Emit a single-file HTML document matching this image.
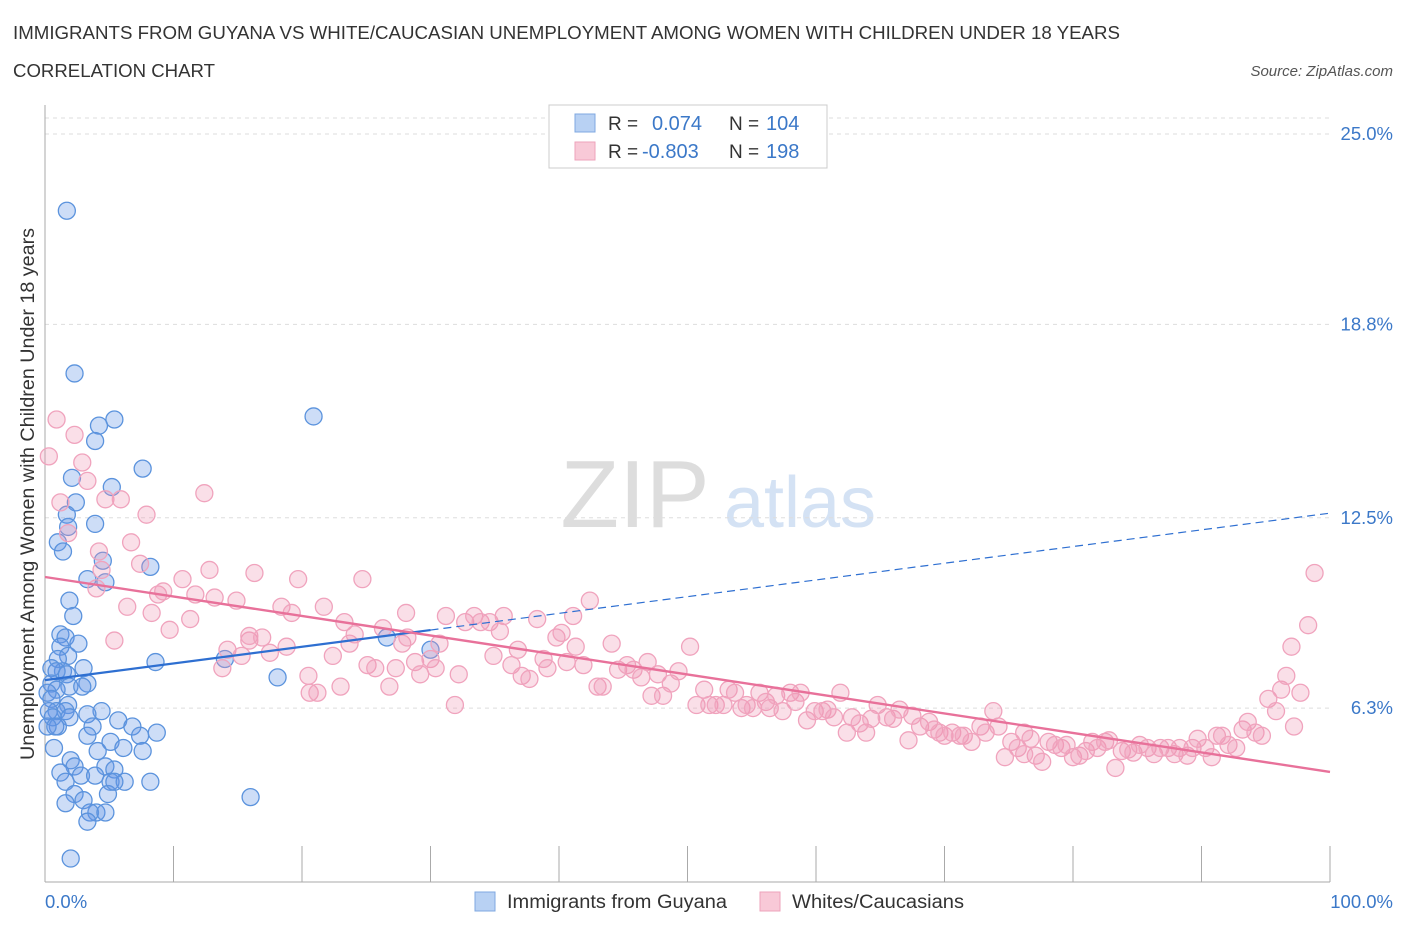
<!DOCTYPE html>
<html><head><meta charset="utf-8">
<style>
body{margin:0;background:#fff;font-family:"Liberation Sans",sans-serif;}
svg text{font-family:"Liberation Sans",sans-serif;}
</style></head>
<body>
<svg id="chart" width="1406" height="930" viewBox="0 0 1406 930" xmlns="http://www.w3.org/2000/svg">
<text x="13" y="39" font-size="18" fill="#333" textLength="1107" lengthAdjust="spacingAndGlyphs">IMMIGRANTS FROM GUYANA VS WHITE/CAUCASIAN UNEMPLOYMENT AMONG WOMEN WITH CHILDREN UNDER 18 YEARS</text>
<text x="13" y="77" font-size="18" fill="#333" textLength="202" lengthAdjust="spacingAndGlyphs">CORRELATION CHART</text>
<text x="1393" y="76" font-size="15" fill="#555" text-anchor="end" font-style="italic">Source: ZipAtlas.com</text>
<g>
<text x="635" y="527" font-size="96" fill="#ddd" text-anchor="middle" font-family="Liberation Serif, serif">ZIP</text>
<text x="800" y="527" font-size="72" fill="#d4e2f4" text-anchor="middle">atlas</text>
</g>
<g id="grid"></g>
<g id="axes"></g>
<g id="blue"></g>
<g id="pink"></g>
<g id="trends"></g>
<g>
<rect x="549" y="105" width="278" height="63" fill="#fff" stroke="#ccc"/>
<rect x="575" y="114" width="20" height="18" fill="#b8d1f3" stroke="#7fa8e0"/>
<text x="608" y="130" font-size="19" fill="#333">R =</text>
<text x="652" y="130" font-size="20" fill="#3b78c8">0.074</text>
<text x="729" y="130" font-size="19" fill="#333">N =</text>
<text x="766" y="130" font-size="20" fill="#3b78c8">104</text>
<rect x="575" y="142" width="20" height="18" fill="#f8c9d7" stroke="#eea3bb"/>
<text x="608" y="158" font-size="19" fill="#333">R =</text>
<text x="642" y="158" font-size="20" fill="#3b78c8">-0.803</text>
<text x="729" y="158" font-size="19" fill="#333">N =</text>
<text x="766" y="158" font-size="20" fill="#3b78c8">198</text>
</g>
<g>
<rect x="475" y="892" width="20" height="19" fill="#b8d1f3" stroke="#7fa8e0"/>
<text x="507" y="908" font-size="19" fill="#333" textLength="220" lengthAdjust="spacingAndGlyphs">Immigrants from Guyana</text>
<rect x="760" y="892" width="20" height="19" fill="#f8c9d7" stroke="#eea3bb"/>
<text x="792" y="908" font-size="19" fill="#333" textLength="172" lengthAdjust="spacingAndGlyphs">Whites/Caucasians</text>
</g>
</svg>
<script>
const yTicks=[25.0,18.8,12.5,6.3];
const yTickLabels=["25.0%","18.8%","12.5%","6.3%"];
const xTickLabels=["0.0%","100.0%"];
const blueX=[1.7,2.3,5.4,4.2,3.9,2.1,7.6,5.2,2.4,1.7,1.8,3.9,1.0,1.4,4.5,8.2,3.3,4.7,1.9,2.2,1.2,1.6,2.6,1.2,1.8,8.6,1.0,3.0,1.4,0.5,0.9,1.7,3.3,1.9,0.5,2.9,0.9,0.2,0.5,1.8,4.4,0.9,1.6,0.3,1.9,0.6,3.3,5.7,3.7,6.8,1.0,0.2,0.8,3.3,7.4,8.7,5.1,0.7,6.1,4.1,7.6,2.0,2.3,4.7,1.2,2.8,3.9,5.4,1.6,5.1,6.2,8.2,2.3,4.9,1.6,3.0,4.0,3.5,4.7,3.3,2.0,14.0,18.1,20.9,16.0,26.6,30.0,5.4];
const blueY=[22.5,17.2,15.7,15.5,15.0,13.8,14.1,13.5,13.0,12.6,12.2,12.3,11.7,11.4,11.1,10.9,10.5,10.4,9.8,9.3,8.7,8.6,8.4,8.3,8.0,7.8,7.9,7.6,7.5,7.6,7.5,7.4,7.1,7.0,7.1,7.0,6.9,6.8,6.6,6.4,6.2,6.2,6.2,6.2,6.0,6.0,6.1,5.9,5.7,5.7,5.7,5.7,5.7,5.4,5.4,5.5,5.2,5.0,5.0,4.9,4.9,4.6,4.4,4.4,4.2,4.1,4.1,4.3,3.9,3.9,3.9,3.9,3.5,3.5,3.2,3.3,2.9,2.9,2.9,2.6,1.4,7.9,7.3,15.8,3.4,8.6,8.2,3.9];
const pinkX=[0.9,0.3,2.3,2.9,3.3,1.2,1.8,4.7,5.9,7.9,6.7,4.2,4.0,4.4,6.4,5.4,7.4,8.8,9.2,8.3,9.7,10.7,11.3,11.7,12.4,12.8,13.2,13.8,14.9,14.2,15.3,15.9,16.3,15.9,16.9,17.5,18.4,18.8,19.7,19.2,20.5,20.6,21.2,21.7,22.4,23.0,23.3,23.7,24.1,24.7,25.1,25.7,26.3,26.8,27.3,27.8,28.1,28.2,28.8,29.2,30.0,30.4,30.7,31.2,31.9,32.2,32.7,33.4,33.9,34.6,34.9,35.4,35.7,36.3,36.8,37.1,37.7,38.3,38.8,39.1,39.8,40.2,40.6,41.1,41.3,41.9,42.4,43.0,43.4,44.1,44.6,45.3,45.8,46.4,46.9,47.2,47.7,48.1,48.7,49.3,50.2,50.7,51.3,51.7,52.2,52.8,53.2,53.7,54.2,54.6,55.1,55.6,56.1,56.4,56.9,57.4,58.0,58.4,58.8,59.3,59.9,60.5,60.9,61.4,61.9,62.4,62.8,63.4,63.9,64.3,64.8,65.5,66.0,66.5,67.2,67.5,68.1,68.8,69.2,69.6,70.0,70.6,71.2,71.5,72.1,72.8,73.2,73.8,74.2,74.7,75.2,75.7,76.2,76.7,77.1,77.6,78.1,78.6,79.1,79.5,80.0,80.5,81.0,81.5,81.9,82.5,82.8,83.3,83.8,84.3,84.7,85.2,85.8,86.3,86.8,87.4,87.9,88.3,88.9,89.3,89.7,90.3,90.8,91.2,91.6,92.1,92.7,93.2,93.6,94.2,94.7,95.2,95.8,96.2,96.6,97.0,97.7,98.3,98.8,97.2,76.2];
const pinkY=[15.7,14.5,15.2,14.3,13.7,13.0,12.0,13.1,13.1,12.6,11.7,11.4,10.2,10.8,9.6,8.5,11.0,10.0,10.1,9.4,8.85,10.5,9.2,10.0,13.3,10.8,9.9,7.6,9.8,8.2,8.0,8.5,10.7,8.65,8.6,8.1,9.6,8.3,10.5,9.4,7.35,6.8,6.8,9.6,8.0,7.0,9.1,8.4,8.7,10.5,7.7,7.6,8.9,7.0,7.6,8.4,9.4,8.6,7.8,7.4,7.9,7.6,8.4,9.3,6.4,7.4,9.1,9.3,9.1,9.1,8.0,8.8,9.3,7.7,8.2,7.35,7.25,9.2,7.9,7.6,8.6,8.75,7.8,9.3,8.3,7.7,9.8,7.0,7.0,8.4,7.55,7.7,7.55,7.3,7.8,6.7,7.4,6.7,7.1,7.5,8.3,6.4,6.9,6.4,6.4,6.4,6.9,6.8,6.3,6.4,6.3,6.8,6.5,6.3,6.7,6.2,6.8,6.5,6.8,5.9,6.2,6.2,6.25,6.0,6.8,5.5,6.0,5.8,5.5,5.95,6.4,6.0,5.95,6.25,5.25,6.05,5.7,5.85,5.6,5.5,5.4,5.5,5.4,5.4,5.2,5.7,5.5,6.2,5.7,4.7,5.2,5.0,5.5,5.3,4.75,4.55,5.2,5.1,5.0,5.1,4.7,4.75,4.9,5.2,5.0,5.2,5.25,4.35,4.9,4.95,4.85,5.1,5.0,4.8,5.0,5.0,4.8,5.0,4.75,5.0,5.3,5.0,4.7,5.4,5.4,5.1,5.0,5.6,5.85,5.5,5.4,6.6,6.2,6.9,7.35,8.3,6.8,9.0,10.7,5.7,4.8];
const blueTrend=[7.21,12.65];
const pinkTrend=[10.57,4.22];
const blueSolidEnd=30;

const NS="http://www.w3.org/2000/svg";
const X0=45,X1=1330;
function xs(v){return X0+(X1-X0)*v/100;}
function ys(v){return 134+(25-v)*30.7;}
function mk(tag,attrs,parent){const e=document.createElementNS(NS,tag);for(const k in attrs)e.setAttribute(k,attrs[k]);parent.appendChild(e);return e;}

const grid=document.getElementById('grid');
mk('line',{x1:X0,x2:X1,y1:118,y2:118,stroke:'#ddd','stroke-dasharray':'4,4'},grid);
yTicks.forEach((t,i)=>{
  const l=mk('line',{x1:X0,x2:X1,y1:ys(t),y2:ys(t),stroke:'#ddd','stroke-dasharray':'4,4'},grid);
  
  
  const tx=mk('text',{x:1393,y:ys(t)+6,'font-size':18.5,fill:'#3b78c8','text-anchor':'end'},grid);
  tx.textContent=yTickLabels[i];
  
  
});
const ax=document.getElementById('axes');
mk('line',{x1:X0,x2:X0,y1:105,y2:882,stroke:'#aaa'},ax);
mk('line',{x1:X0,x2:X1,y1:882,y2:882,stroke:'#aaa'},ax);
for(let i=1;i<=10;i++){const t=mk('line',{x1:xs(i*10),x2:xs(i*10),y1:846,y2:882,stroke:'#aaa'},ax);
  
  }
let xl=mk('text',{x:45,y:908,'font-size':18.5,fill:'#3b78c8'},ax);xl.textContent=xTickLabels[0];


xl=mk('text',{x:1393,y:908,'font-size':18.5,fill:'#3b78c8','text-anchor':'end'},ax);xl.textContent=xTickLabels[1];


const yt=mk('text',{x:0,y:0,'font-size':19,fill:'#333','text-anchor':'middle',textLength:532,lengthAdjust:'spacingAndGlyphs',transform:'translate(34,494) rotate(-90)'},ax);
yt.textContent='Unemployment Among Women with Children Under 18 years';



const bg=document.getElementById('blue');
blueX.forEach((x,i)=>{const c=mk('circle',{cx:xs(x),cy:ys(blueY[i]),r:8.5,fill:'rgba(100,150,230,0.32)',stroke:'#5b93dd','stroke-width':1.3},bg);
  
  });
const pg=document.getElementById('pink');
pinkX.forEach((x,i)=>{const c=mk('circle',{cx:xs(x),cy:ys(pinkY[i]),r:8.5,fill:'rgba(240,150,180,0.3)',stroke:'#f0a3bd','stroke-width':1.3},pg);
  
  });

const tg=document.getElementById('trends');
function by(x){return blueTrend[0]+(blueTrend[1]-blueTrend[0])*x/100;}
let l=mk('line',{x1:xs(0),y1:ys(by(0)),x2:xs(blueSolidEnd),y2:ys(by(blueSolidEnd)),stroke:'#2e6fd1','stroke-width':2.2},tg);


l=mk('line',{x1:xs(blueSolidEnd),y1:ys(by(blueSolidEnd)),x2:xs(100),y2:ys(by(100)),stroke:'#2e6fd1','stroke-width':1.2,'stroke-dasharray':'8,5'},tg);


l=mk('line',{x1:xs(0),y1:ys(pinkTrend[0]),x2:xs(100),y2:ys(pinkTrend[1]),stroke:'#e8719a','stroke-width':2.4},tg);


</script>
</body></html>
